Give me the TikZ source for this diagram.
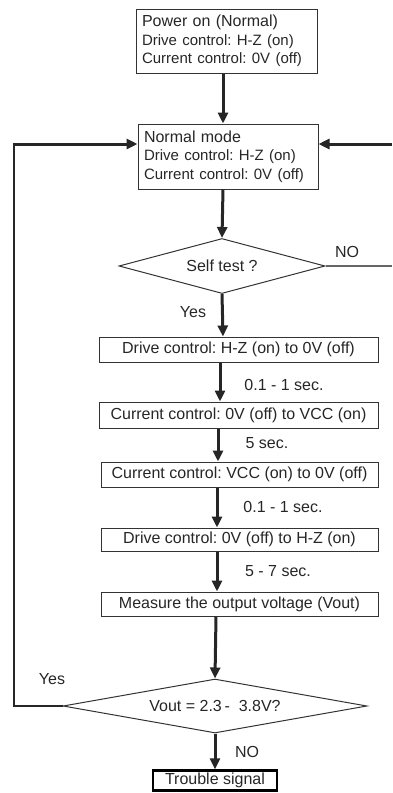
\documentclass[tikz,border=0pt]{standalone}
\usepackage{fontspec}
\setmainfont{Liberation Sans}
\usetikzlibrary{shapes.geometric,arrows.meta}
\frenchspacing

\begin{document}
\begin{tikzpicture}[x=1pt,y=-1pt,
  font=\fontsize{16}{18.5}\selectfont,
  txt/.style={text=black!85},
  box/.style={draw=black!80,line width=1pt,rectangle,inner sep=0pt,txt},
  infobox/.style={box,align=left,text width=#1,minimum height=64pt},
  stepbox/.style={box,minimum width=277pt,minimum height=24.5pt},
  decision/.style={draw=black!80,line width=1pt,diamond,inner sep=0pt,txt},
  alarm/.style={draw=black,line width=2.4pt,rectangle,inner sep=0pt,txt,
    minimum width=124pt,minimum height=20pt},
  arr/.style={draw=black!85,line width=3pt,
    -{Triangle[width=10pt,length=11pt]}},
  back/.style={draw=black!85,line width=1.1pt},
  noline/.style={draw=black!60,line width=1.1pt},
  lbl/.style={txt,inner sep=0pt}]

\useasboundingbox (0,0) rectangle (392,793);

% start-up and idle states
\node[infobox=169pt,minimum width=181pt] (pwr) at (226.5,41)
  {Power on (Normal)\\\fontsize{15}{18.5}\selectfont Drive control: H-Z (on)\\
   \fontsize{15}{18.5}\selectfont Current control: 0V (off)};
\node[infobox=168pt,minimum width=180pt,minimum height=65pt] (norm) at (228,156.5)
  {Normal mode\\\fontsize{15}{18.5}\selectfont Drive control: H-Z (on)\\
   \fontsize{15}{18.5}\selectfont Current control: 0V (off)};

% self-test decision
\node[decision,aspect=3.75,minimum width=206pt,minimum height=55pt] (self) at (222,266) {Self test ?};

% self-test sequence
\node[stepbox,minimum width=279pt,minimum height=25pt] (s1) at (238.5,349.5)
  {Drive control: H-Z (on) to 0V (off)};
\node[stepbox,minimum width=279pt,minimum height=26pt] (s2) at (238.5,415)
  {Current control: 0V (off) to VCC (on)};
\node[stepbox,minimum height=25pt] (s3) at (239.5,474.5)
  {Current control: VCC (on) to 0V (off)};
\node[stepbox,minimum height=23pt] (s4) at (239.5,539.5)
  {Drive control: 0V (off) to H-Z (on)};
\node[stepbox,minimum height=24pt] (s5) at (239.5,604)
  {Measure the output voltage (Vout)};

% result check and alarm
\node[decision,aspect=5.63,minimum width=304pt,minimum height=54pt] (chk) at (215,706)
  {Vout = 2.3\,-~~3.8V?};
\node[alarm] (bad) at (215,780.5) {Trouble signal};

% vertical guides for the main flow
\coordinate (x1) at (223,0);
\coordinate (x2) at (220,0);
\coordinate (x3) at (218,0);
\coordinate (x4) at (217,0);
\coordinate (x5) at (216,0);

% main flow
\draw[arr] (pwr.south -| x1) -- (norm.north -| x1);
\draw[arr] (norm.south -| x1) -- (self.north);
\draw[arr] (self.south) -- (s1.north -| x1);
\draw[arr] (s1.south -| x2) -- (s2.north -| x2);
\draw[arr] (s2.south -| x3) -- (s3.north -| x3);
\draw[arr] (s3.south -| x4) -- (s4.north -| x4);
\draw[arr] (s4.south -| x4) -- (s5.north -| x4);
\draw[arr] (s5.south -| x5) -- (chk.north);
\draw[arr] (chk.south) -- (bad.north);

% return path on the left ("Yes")
\coordinate (lt) at (14,144);
\draw[back] (chk.west) -| (lt);
\draw[arr] ([xshift=-0.55pt]lt) -- (norm.west |- lt);

% return path on the right ("NO")
\coordinate (rlow) at (392,266);
\coordinate (rtop) at (392,144);
\draw[noline] (self.east) -- (rlow);
\draw[arr] (rtop) -- (norm.east |- rtop);

% labels
\node[lbl] at (347,252) {NO};
\node[lbl] at (193,312) {Yes};
\node[lbl] at (284,385) {0.1 - 1 sec.};
\node[lbl] at (267,443) {5 sec.};
\node[lbl] at (283,507) {0.1 - 1 sec.};
\node[lbl] at (278,571) {5 - 7 sec.};
\node[lbl] at (52,679) {Yes};
\node[lbl] at (247,752) {NO};
\end{tikzpicture}
\end{document}
